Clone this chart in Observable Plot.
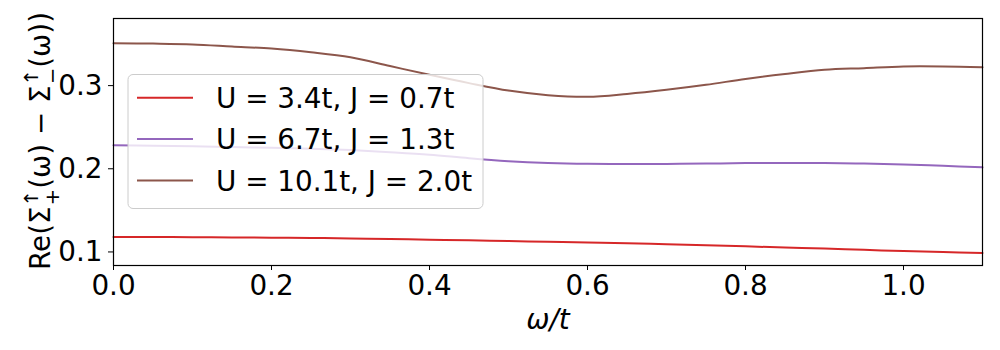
<!DOCTYPE html>
<html>
<head>
<meta charset="utf-8">
<script src="https://cdn.jsdelivr.net/npm/d3@7"></script>
<script src="https://cdn.jsdelivr.net/npm/@observablehq/plot@0.6"></script>
<style>
  html, body { margin: 0; padding: 0; background: white; }
  #chart { width: 1000px; height: 350px; }
</style>
</head>
<body>
<div id="chart"></div>
<script>
const omega = [0, 0.05, 0.1, 0.15, 0.2, 0.25, 0.3, 0.35, 0.4, 0.45, 0.5, 0.55,
               0.6, 0.65, 0.7, 0.75, 0.8, 0.85, 0.9, 0.95, 1.0, 1.05, 1.1];
const seriesNames = ["U = 3.4t, J = 0.7t", "U = 6.7t, J = 1.3t", "U = 10.1t, J = 2.0t"];
const seriesColors = ["#d62728", "#9467bd", "#8c564b"];
const redValues = [0.1181, 0.1180, 0.1178, 0.1175, 0.1172, 0.1168, 0.1162, 0.1155, 0.1148, 0.1140, 0.1131, 0.1123,
                   0.1114, 0.1104, 0.1093, 0.1080, 0.1067, 0.1054, 0.1040, 0.1025, 0.1011, 0.0999, 0.0988];
const purpleValues = [0.2282, 0.2278, 0.2272, 0.2262, 0.2252, 0.2242, 0.2225, 0.2200, 0.2170, 0.2127, 0.2092, 0.2070,
                      0.2059, 0.2057, 0.2058, 0.2062, 0.2068, 0.2069, 0.2068, 0.2062, 0.2052, 0.2035, 0.2017];
const brownValues = [0.351, 0.3505, 0.3495, 0.347, 0.3445, 0.340, 0.334, 0.3235, 0.313, 0.303, 0.294, 0.2885,
                     0.2865, 0.290, 0.295, 0.301, 0.308, 0.314, 0.319, 0.321, 0.323, 0.323, 0.322];
const xTicks = [0, 0.2, 0.4, 0.6, 0.8, 1.0];
const yTicks = [0.1, 0.2, 0.3];
const xDomain = [0, 1.1];
const yDomain = [0.0837, 0.3807];

const seriesValues = [redValues, purpleValues, brownValues];
const data = seriesNames.flatMap((name, i) =>
  omega.map((w, j) => ({w, v: seriesValues[i][j], name})));

const FONT = "'DejaVu Sans', sans-serif";
const FS = 27.8;

const plot = Plot.plot({
  width: 1000,
  height: 350,
  marginLeft: 113,
  marginRight: 18,
  marginTop: 18,
  marginBottom: 85,
  style: {fontFamily: FONT, fontSize: FS + "px", background: "white", color: "black", overflow: "visible"},
  x: {domain: xDomain, ticks: xTicks, tickFormat: ".1f", tickSize: 5, tickPadding: 5, label: null},
  y: {domain: yDomain, ticks: yTicks, tickFormat: ".1f", tickSize: 5, tickPadding: 6, label: null},
  color: {domain: seriesNames, range: seriesColors},
  marks: [
    Plot.line(data, {x: "w", y: "v", stroke: "name", strokeWidth: 2, curve: "catmull-rom"}),
    Plot.frame({stroke: "black", strokeWidth: 1.2})
  ]
});
document.getElementById("chart").appendChild(plot);

const svg = d3.select(plot);

// x label
svg.append("text")
  .attr("x", 548).attr("y", 329)
  .attr("text-anchor", "middle")
  .attr("font-family", FONT).attr("font-size", FS).attr("font-style", "italic")
  .attr("fill", "black")
  .text("ω/t");

// y label
const yl = svg.append("text")
  .attr("transform", "translate(50,141) rotate(-90)")
  .attr("text-anchor", "middle")
  .attr("font-family", FONT).attr("font-size", FS)
  .attr("fill", "black");
yl.append("tspan").text("Re(Σ");
yl.append("tspan").attr("font-size", FS * 0.7).attr("dy", -12).text("↑");
yl.append("tspan").attr("font-size", FS * 0.7).attr("dx", -15).attr("dy", 21).text("+");
yl.append("tspan").attr("dy", -9).text("(ω) − Σ");
yl.append("tspan").attr("font-size", FS * 0.7).attr("dy", -12).text("↑");
yl.append("tspan").attr("font-size", FS * 0.7).attr("dx", -15).attr("dy", 21).text("−");
yl.append("tspan").attr("dy", -9).text("(ω))");

// legend
const lg = svg.append("g").attr("text-anchor", "start");
lg.append("rect")
  .attr("x", 128).attr("y", 74.5).attr("width", 355).attr("height", 134)
  .attr("rx", 5).attr("ry", 5)
  .attr("fill", "white").attr("fill-opacity", 0.8)
  .attr("stroke", "#cccccc").attr("stroke-width", 1);
const rowY = [97.7, 139, 180.5];
seriesNames.forEach((name, i) => {
  lg.append("line")
    .attr("x1", 137).attr("x2", 193).attr("y1", rowY[i]).attr("y2", rowY[i])
    .attr("stroke", seriesColors[i]).attr("stroke-width", 2);
  lg.append("text")
    .attr("x", 216).attr("y", rowY[i]).attr("dy", "0.36em")
    .attr("text-anchor", "start")
    .attr("font-family", FONT).attr("font-size", FS).attr("fill", "black")
    .text(name);
});
</script>
</body>
</html>
